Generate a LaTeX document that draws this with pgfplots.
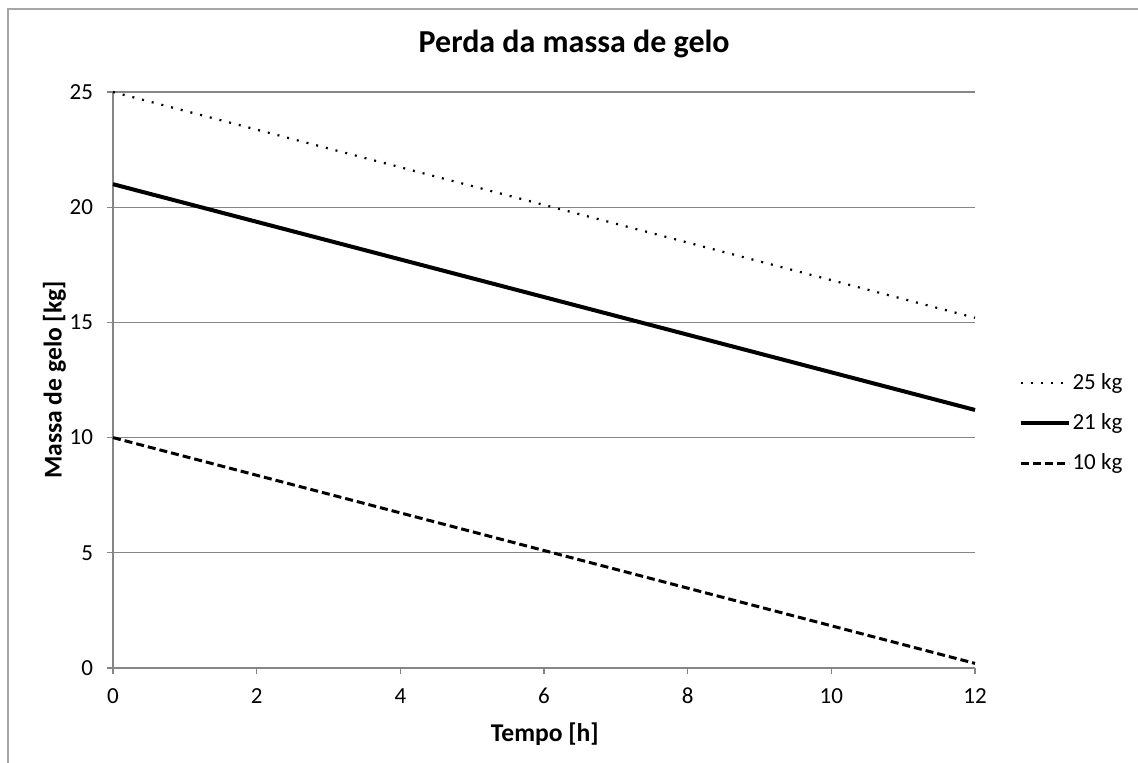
\documentclass[border=0pt]{standalone}
\usepackage{fontspec}
\setmainfont{Carlito}
\usepackage{pgfplots}
\pgfplotsset{compat=1.18}

\definecolor{gridgray}{RGB}{134,134,134}
\definecolor{framegray}{RGB}{166,166,166}

\begin{document}
\begin{tikzpicture}[x=1pt,y=1pt]
% page area and chart frame
\clip (-56.5,-47) rectangle (512.5,334);
\draw[framegray, line width=1.2pt] (-52.5,-80) -- (-52.5,329.5) -- (560,329.5);
\begin{axis}[
  at={(0,0)}, anchor=south west,
  scale only axis,
  width=431pt, height=288pt,
  xmin=0, xmax=12, ymin=0, ymax=25,
  xtick={0,2,...,12}, ytick={0,5,...,25},
  axis x line*=bottom, axis y line*=left,
  axis line style={gridgray, line width=0.6pt},
  major tick style={gridgray, line width=0.6pt},
  major tick length=3pt,
  tick align=outside,
  ymajorgrids,
  grid style={gridgray, line width=0.6pt},
  every tick label/.style={font=\fontsize{11.5}{13}\selectfont, text=black},
  /pgf/number format/assume math mode=true,
  xticklabel style={yshift=-4.5pt, text height=1.4ex, text depth=0pt},
  yticklabel style={xshift=-3.5pt},
  title={\textbf{Perda da massa de gelo}},
  title style={at={(0.535,1.073)}, anchor=center, yshift=-3pt, font=\fontsize{16}{19}\selectfont},
  xlabel={\textbf{Tempo [h]}},
  xlabel style={at={(0.501,-0.115)}, anchor=center, font=\fontsize{12.8}{15}\selectfont},
  ylabel={\textbf{Massa de gelo [kg]}},
  ylabel style={at={(-0.068,0.5)}, anchor=center, rotate=0, font=\fontsize{12.8}{15}\selectfont},
  legend style={at={(1.05,0.425)}, anchor=west, draw=none, fill=none,
    font=\fontsize{11.5}{13}\selectfont, row sep=8.5pt, inner sep=0pt,
    nodes={inner sep=1pt}},
  legend cell align=left,
  legend image code/.code={\draw[#1] (0pt,0pt) -- (24pt,0pt);},
  clip=false,
]
\addplot[black, line width=1.1pt, dash pattern=on 1pt off 4pt] coordinates {(0,25) (12,15.2)};
\addlegendentry{25 kg}
\addplot[black, line width=2pt] coordinates {(0,21) (12,11.2)};
\addlegendentry{21 kg}
\addplot[black, line width=1.5pt, dash pattern=on 4pt off 2pt] coordinates {(0,10) (12,0.2)};
\addlegendentry{10 kg}
\end{axis}
\end{tikzpicture}
\end{document}
